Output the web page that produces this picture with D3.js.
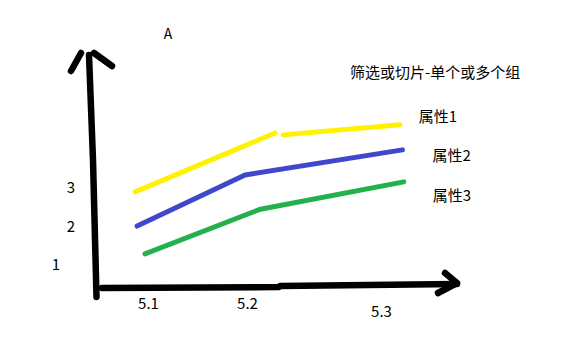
<!DOCTYPE html>
<html>
<head>
<meta charset="utf-8">
<script src="https://cdn.jsdelivr.net/npm/d3@7"></script>
<style>
  html, body { margin: 0; padding: 0; background: #fff; }
  svg { display: block; }
  text { font-family: "Noto Sans CJK SC", "Noto Sans", sans-serif; fill: #000; }
</style>
</head>
<body>
<svg id="chart" width="567" height="352"></svg>
<script>
// ---------------- data ----------------
const chartTitle = "A";
const groupNote = "筛选或切片-单个或多个组";
const xTickValues = [5.1, 5.2, 5.3];
const yTickValues = [1, 2, 3];
const seriesNames = ["属性1", "属性2", "属性3"];
// hand-sketched series (x in "date" units, y in value units); null marks a pen lift
const attr1X = [5.087, 5.221, null, 5.227, 5.314];
const attr1Y = [2.90, 4.43, null, 4.38, 4.64];
const attr2X = [5.089, 5.198, 5.316];
const attr2Y = [2.01, 3.34, 3.99];
const attr3X = [5.097, 5.210, 5.317];
const attr3Y = [1.29, 2.45, 3.16];

// ---------------- layout / style ----------------
const colors = ["#FFF200", "#3F48CC", "#22B14C"];
const svg = d3.select("#chart");
const W = 567, H = 352;
svg.append("rect").attr("width", W).attr("height", H).attr("fill", "#fff");

// hand-drawn axis spacing: piecewise scale
const x = d3.scaleLinear().domain([5.1, 5.2, 5.3]).range([148, 247, 381]);
const y = d3.scaleLinear().domain([1, 3]).range([265, 188]);

const pen = d3.line().x(d => d[0]).y(d => d[1]).curve(d3.curveLinear);

// axes drawn as brush strokes
const axisStroke = { stroke: "#000", "stroke-width": 6.5, fill: "none", "stroke-linecap": "round", "stroke-linejoin": "round" };
function stroke(pts) {
  const p = svg.append("path").attr("d", pen(pts));
  Object.entries(axisStroke).forEach(([k, v]) => p.attr(k, v));
  return p;
}
// y axis shaft + arrow head
stroke([[89, 55], [93, 160], [96.5, 297]]);
stroke([[81, 53], [71, 71]]);
stroke([[94, 53], [112, 66]]);
// x axis shaft + arrow head
stroke([[102, 288], [279, 287], [280, 286], [457, 284]]);
stroke([[445, 273], [457, 283], [438, 293]]);

// tick labels through d3 axes
const xNudge = { "5.1": 0, "5.2": 0, "5.3": 8 };
const gx = svg.append("g").attr("transform", "translate(0,0)")
  .call(d3.axisBottom(x).tickValues(xTickValues).tickFormat(d3.format(".1f")).tickSize(0));
gx.select(".domain").remove();
gx.selectAll("text")
  .attr("y", d => 309 + xNudge[d3.format(".1f")(d)])
  .attr("dy", null)
  .attr("font-size", 15)
  .style("font-family", '"Noto Sans CJK SC", sans-serif')
  .attr("fill", "#000");

const yNudge = { 1: -15, 2: 0, 3: 0 };
const gy = svg.append("g").attr("transform", "translate(71,0)")
  .call(d3.axisLeft(y).tickValues(yTickValues).tickFormat(d3.format("d")).tickSize(0));
gy.select(".domain").remove();
gy.selectAll("text")
  .attr("x", d => yNudge[d])
  .attr("dy", "0.33em")
  .attr("text-anchor", "middle")
  .attr("font-size", 15)
  .style("font-family", '"Noto Sans CJK SC", sans-serif')
  .attr("fill", "#000");

// series lines
const seriesX = [attr1X, attr2X, attr3X];
const seriesY = [attr1Y, attr2Y, attr3Y];
const series = seriesNames.map((name, i) => ({
  name,
  color: colors[i],
  pts: seriesX[i].map((xv, j) => ({ x: xv, y: seriesY[i][j] }))
}));
const line = d3.line()
  .defined(d => d.x !== null && d.y !== null)
  .x(d => x(d.x)).y(d => y(d.y));

svg.selectAll("path.series").data(series).join("path")
  .attr("class", "series")
  .attr("d", d => line(d.pts))
  .attr("fill", "none")
  .attr("stroke", d => d.color)
  .attr("stroke-width", 5)
  .attr("stroke-linecap", "round")
  .attr("stroke-linejoin", "round");

// series labels next to line ends
const labelNudge = [[19, -3], [30, 11], [29, 19]];
svg.selectAll("text.lbl").data(series).join("text")
  .attr("class", "lbl")
  .attr("x", (d, i) => x(d.pts[d.pts.length - 1].x) + labelNudge[i][0])
  .attr("y", (d, i) => y(d.pts[d.pts.length - 1].y) + labelNudge[i][1])
  .attr("font-size", 15)
  .text(d => d.name);

// titles
svg.append("text").attr("x", 168).attr("y", 39).attr("text-anchor", "middle")
  .attr("font-size", 14).text(chartTitle);
svg.append("text").attr("x", 350).attr("y", 78)
  .attr("font-size", 15).text(groupNote);
</script>
</body>
</html>
